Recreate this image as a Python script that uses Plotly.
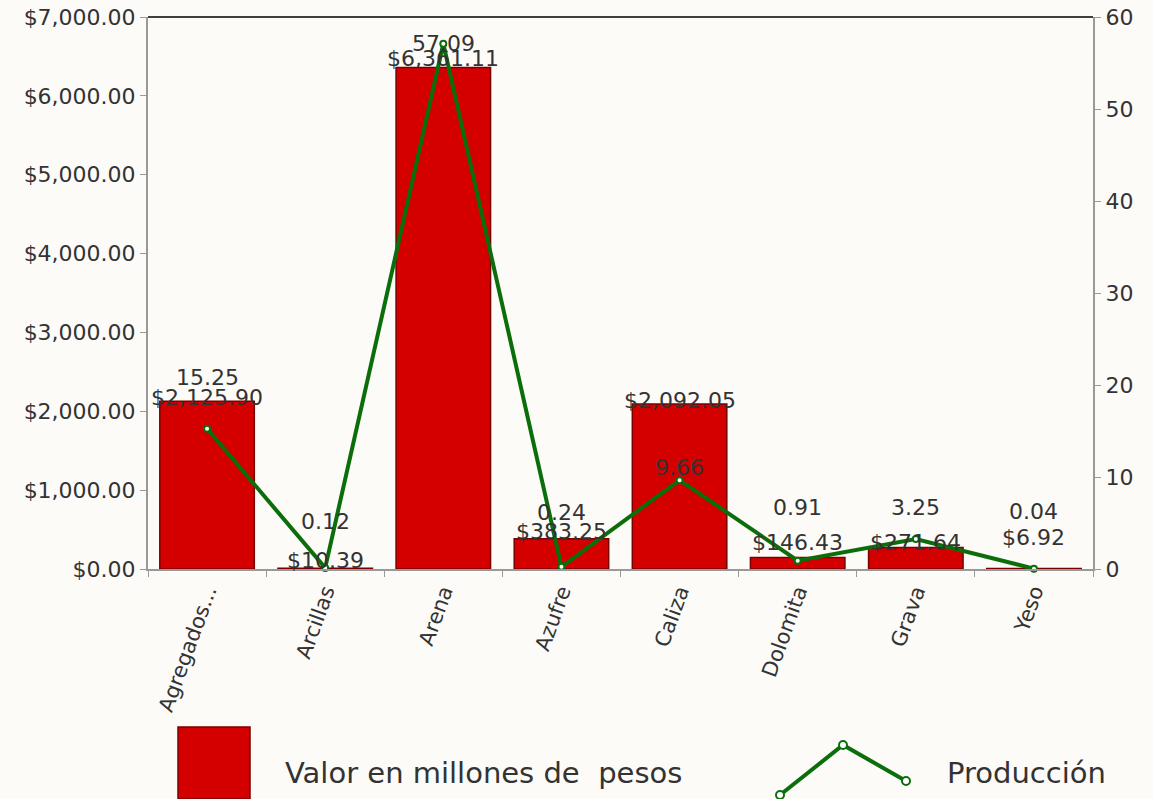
import plotly.graph_objects as go

categories = ["Agregados...", "Arcillas", "Arena", "Azufre", "Caliza", "Dolomita", "Grava", "Yeso"]
valor = [2125.90, 10.39, 6361.11, 383.25, 2092.05, 146.43, 271.64, 6.92]
produccion = [15.25, 0.12, 57.09, 0.24, 9.66, 0.91, 3.25, 0.04]
valor_labels = ["$2,125.90", "$10.39", "$6,361.11", "$383.25", "$2,092.05", "$146.43", "$271.64", "$6.92"]
prod_labels = ["15.25", "0.12", "57.09", "0.24", "9.66", "0.91", "3.25", "0.04"]
# label offsets in pixels (style)
valor_label_shift = [4, 8, 9, 7, 4, 15, 5, 31]
prod_label_shift = [51, 46, 0, 54, 13, 53, 32, 57]

FONT = "DejaVu Sans"
TXT = "#333333"
RED = "#d40000"
GREEN = "#0b6e0b"

W, H = 1153, 799
L, R, T, B = 148, 60, 17, 230
PW, PH = W - L - R, H - T - B

def px(x):
    return (x - L) / PW

def py(y):
    return (H - B - y) / PH

fig = go.Figure()
fig.add_trace(go.Bar(
    x=categories, y=valor, name="Valor en millones de  pesos",
    marker=dict(color=RED, line=dict(color="#7a0000", width=1.5)),
    width=0.8, showlegend=False,
))
fig.add_trace(go.Scatter(
    x=categories, y=produccion, name="Producción", yaxis="y2",
    mode="lines+markers",
    line=dict(color=GREEN, width=4),
    marker=dict(size=6, color="white", line=dict(color=GREEN, width=2)),
    cliponaxis=False, showlegend=False,
))

for c, v, lab, s in zip(categories, valor, valor_labels, valor_label_shift):
    fig.add_annotation(x=c, y=v, yref="y", text=lab, showarrow=False,
                       yanchor="middle", yshift=s,
                       font=dict(family=FONT, size=22, color=TXT))
for c, v, lab, s in zip(categories, produccion, prod_labels, prod_label_shift):
    fig.add_annotation(x=c, y=v, yref="y2", text=lab, showarrow=False,
                       yanchor="middle", yshift=s,
                       font=dict(family=FONT, size=22, color=TXT))

# top border line
fig.add_shape(type="line", xref="x domain", yref="y domain", x0=0, x1=1, y0=1, y1=1,
              line=dict(color="black", width=1.5))

# custom legend
fig.add_shape(type="rect", xref="paper", yref="paper",
              x0=px(178), x1=px(250), y0=py(799), y1=py(727),
              fillcolor=RED, line=dict(color="#7a0000", width=1.5))
fig.add_annotation(xref="paper", yref="paper", x=px(283), y=py(773), text="Valor en millones de  pesos",
                   showarrow=False, xanchor="left", yanchor="middle",
                   font=dict(family=FONT, size=29, color=TXT))
leg_x = [px(780), px(843), px(906)]
leg_y = [py(795), py(745), py(781)]
fig.add_shape(type="path", xref="paper", yref="paper",
              path=f"M {leg_x[0]},{leg_y[0]} L {leg_x[1]},{leg_y[1]} L {leg_x[2]},{leg_y[2]}",
              line=dict(color=GREEN, width=4))
for lx, ly in zip(leg_x, leg_y):
    r = 4
    fig.add_shape(type="circle", xref="paper", yref="paper",
                  x0=lx - r / PW, x1=lx + r / PW, y0=ly - r / PH, y1=ly + r / PH,
                  fillcolor="white", line=dict(color=GREEN, width=2))
fig.add_annotation(xref="paper", yref="paper", x=px(945), y=py(773), text="Producción",
                   showarrow=False, xanchor="left", yanchor="middle",
                   font=dict(family=FONT, size=29, color=TXT))

fig.update_layout(
    width=W, height=H,
    margin=dict(l=L, r=R, t=T, b=B, pad=0, autoexpand=False),
    paper_bgcolor="#fcfbf8", plot_bgcolor="rgba(0,0,0,0)",
    font=dict(family=FONT, size=22, color=TXT),
    bargap=0.2,
    xaxis=dict(
        showgrid=False, showline=True, linecolor="#999999", linewidth=2,
        ticks="outside", tickson="boundaries", ticklen=6, tickcolor="#999999",
        tickangle=-70, tickfont=dict(family=FONT, size=21, color=TXT),
        automargin=False,
    ),
    yaxis=dict(
        range=[0, 7000], dtick=1000, tickformat="$,.2f",
        showgrid=False, zeroline=False, showline=True, linecolor="#999999", linewidth=2,
        ticks="outside", ticklen=6, tickcolor="#999999",
        tickfont=dict(family=FONT, size=22, color=TXT), automargin=False,
    ),
    yaxis2=dict(
        range=[0, 60], dtick=10, overlaying="y", side="right",
        showgrid=False, zeroline=False, showline=True, linecolor="#999999", linewidth=2,
        ticks="outside", ticklen=6, tickcolor="#999999",
        tickfont=dict(family=FONT, size=22, color=TXT), automargin=False,
    ),
)

fig.write_html(
    "out.html",
    config={"displayModeBar": False},
    post_script="document.body.style.margin='0';document.body.style.overflow='hidden';",
)
